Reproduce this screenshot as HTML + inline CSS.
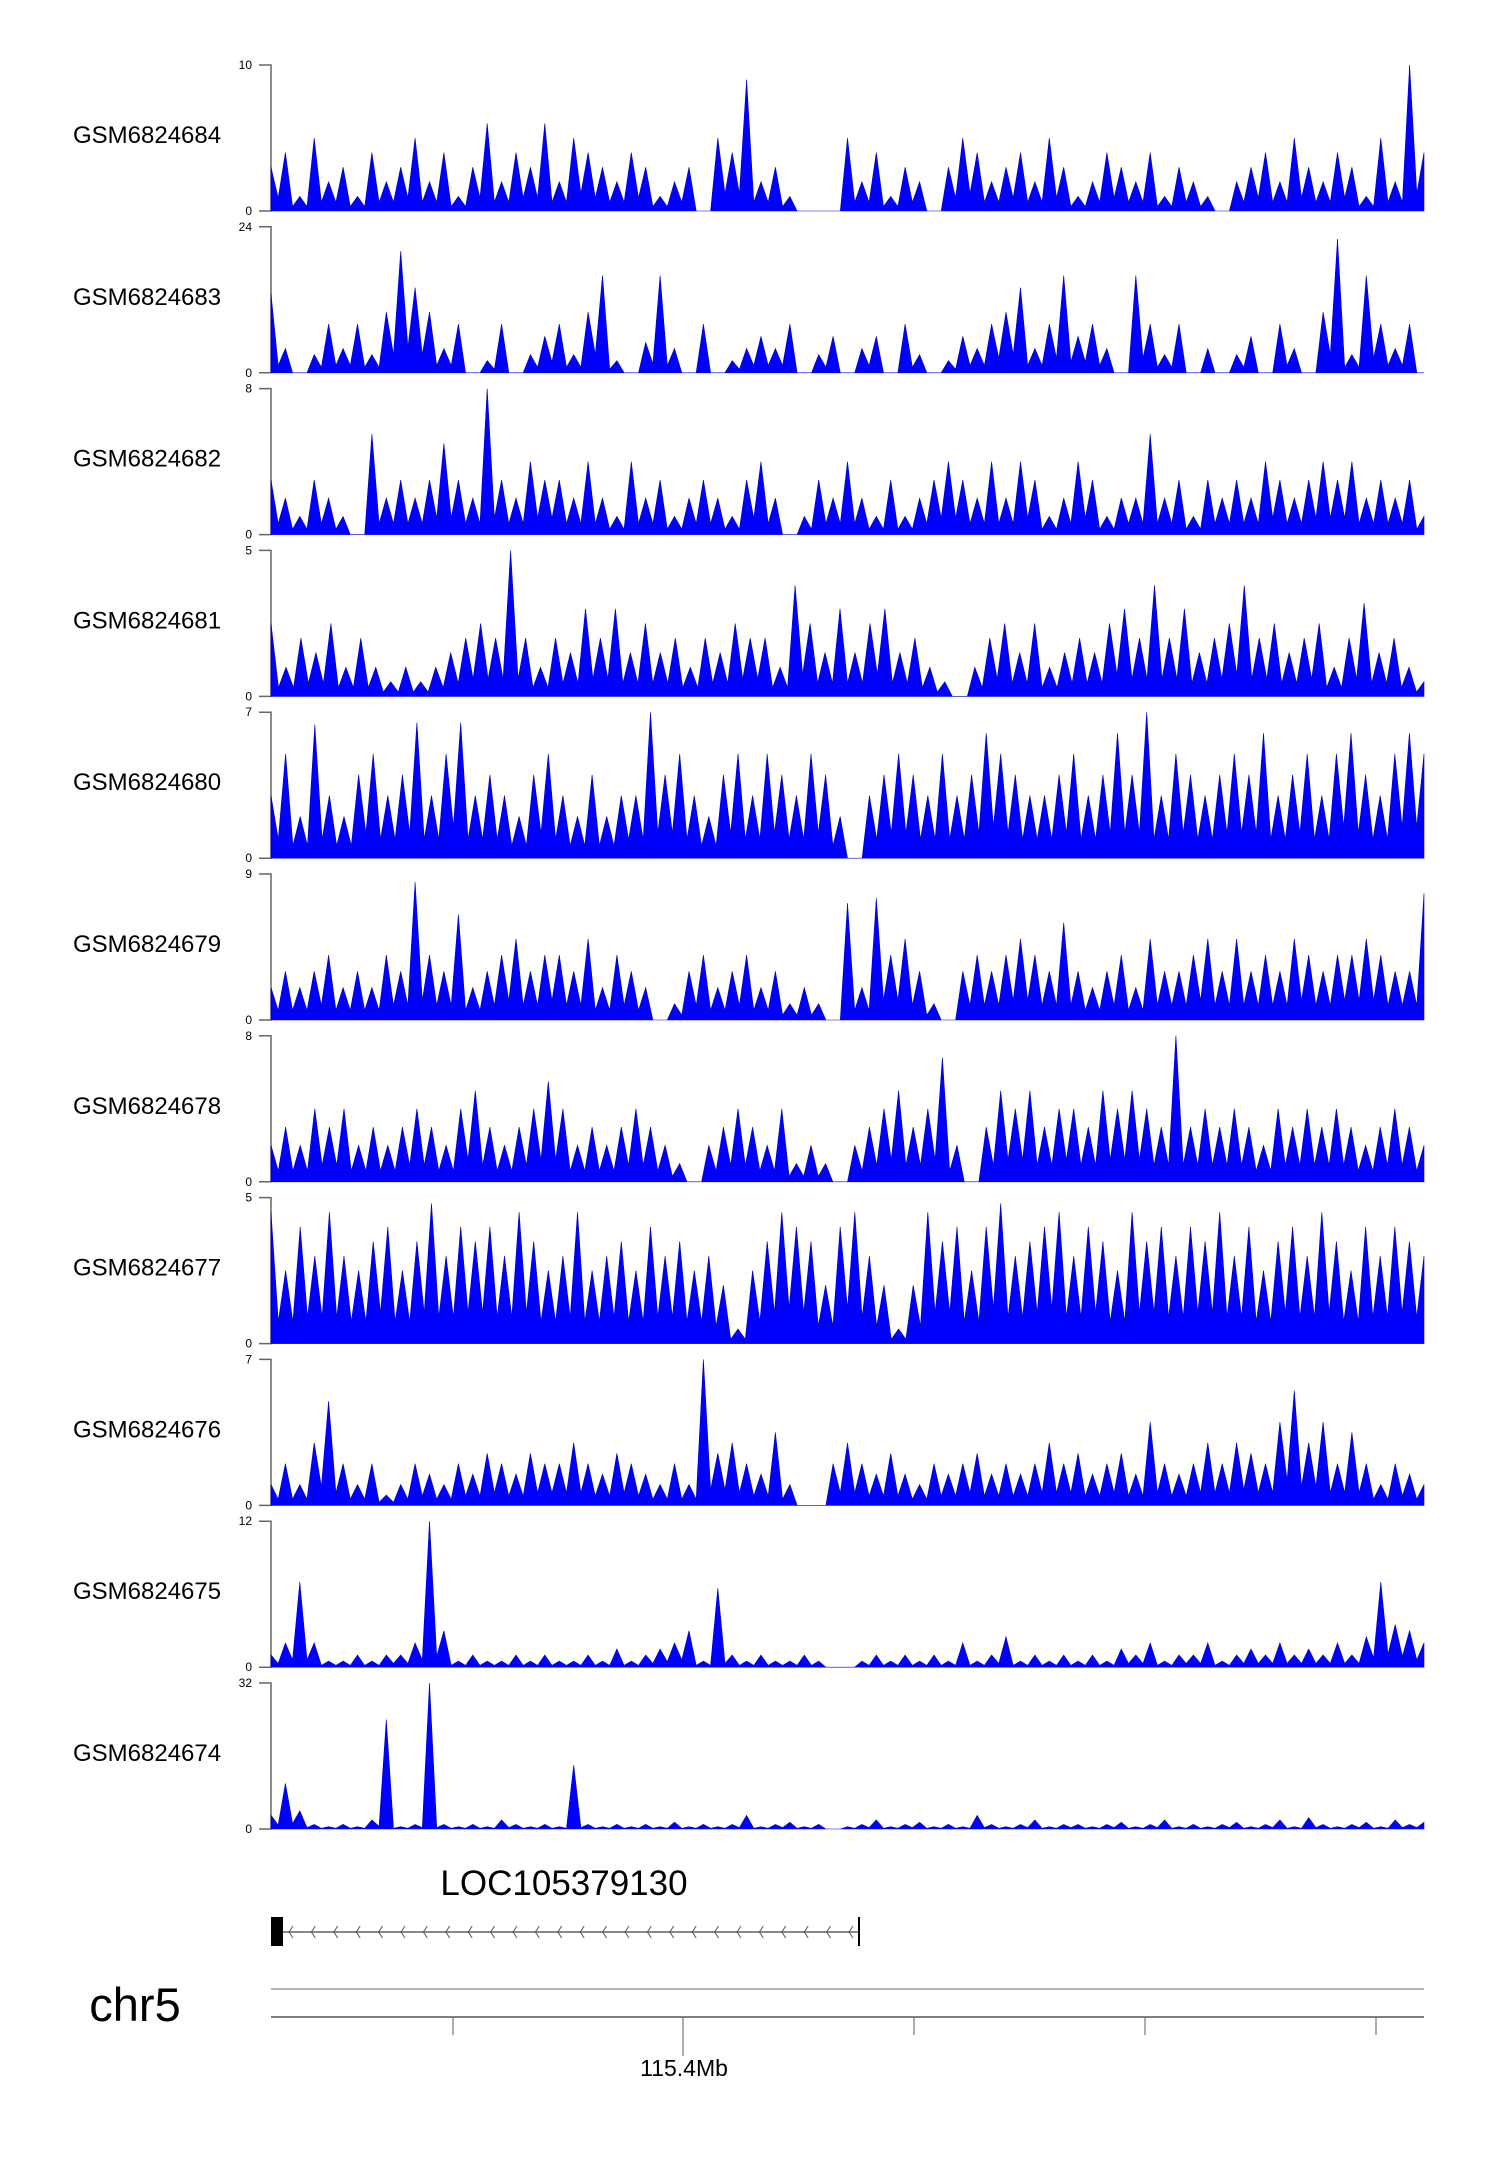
<!DOCTYPE html>
<html><head><meta charset="utf-8"><style>
html,body{margin:0;padding:0;background:#fff;}
svg{display:block;font-family:"Liberation Sans",sans-serif;}
</style></head><body>
<svg id="chart" width="1500" height="2170" viewBox="0 0 1500 2170" xmlns="http://www.w3.org/2000/svg">
<g id="tracks"></g>
<g>
<text x="564" y="1895" font-size="35" text-anchor="middle" fill="#000">LOC105379130</text>
<line x1="271" y1="1932" x2="859" y2="1932" stroke="#888" stroke-width="2"/>
<g id="chevrons"></g>
<rect x="271" y="1917" width="12" height="29" fill="#000"/>
<line x1="859" y1="1917" x2="859" y2="1946" stroke="#000" stroke-width="2"/>
</g>
<g>
<text x="135" y="2021" font-size="47" text-anchor="middle" fill="#000">chr5</text>
<line x1="271" y1="1989" x2="1424" y2="1989" stroke="#999" stroke-width="1.5"/>
<line x1="271" y1="2017" x2="1424" y2="2017" stroke="#555" stroke-width="1.5"/>
<g id="axticks"></g>
<text x="684" y="2076" font-size="23" text-anchor="middle" fill="#000">115.4Mb</text>
</g>
</svg>
<script>
const sampleNames = ["GSM6824684","GSM6824683","GSM6824682","GSM6824681","GSM6824680","GSM6824679","GSM6824678","GSM6824677","GSM6824676","GSM6824675","GSM6824674"];
const yMax = [10,24,8,5,7,9,8,5,7,12,32];
const t684 = [3,4,1,5,2,3,1,4,2,3,5,2,4,1,3,6,2,4,3,6,2,5,4,3,2,4,3,1,2,3,0,5,4,9,2,3,1,0,0,0,5,2,4,1,3,2,0,3,5,4,2,3,4,2,5,3,1,2,4,3,2,4,1,3,2,1,0,2,3,4,2,5,3,2,4,3,1,5,2,10,4];
const t683 = [13,4,0,3,8,4,8,3,10,20,14,10,4,8,0,2,8,0,3,6,8,3,10,16,2,0,5,16,4,0,8,0,2,4,6,4,8,0,3,6,0,4,6,0,8,3,0,2,6,4,8,10,14,4,8,16,6,8,4,0,16,8,3,8,0,4,0,3,6,0,8,4,0,10,22,3,16,8,4,8,0];
const t682 = [3,2,1,3,2,1,0,5.5,2,3,2,3,5,3,2,8,3,2,4,3,3,2,4,2,1,4,2,3,1,2,3,2,1,3,4,2,0,1,3,2,4,2,1,3,1,2,3,4,3,2,4,2,4,3,1,2,4,3,1,2,2,5.5,2,3,1,3,2,3,2,4,3,2,3,4,3,4,2,3,2,3,1];
const t681 = [2.5,1,2,1.5,2.5,1,2,1,0.5,1,0.5,1,1.5,2,2.5,2,5,2,1,2,1.5,3,2,3,1.5,2.5,1.5,2,1,2,1.5,2.5,2,2,1,3.8,2.5,1.5,3,1.5,2.5,3,1.5,2,1,0.5,0,1,2,2.5,1.5,2.5,1,1.5,2,1.5,2.5,3,2,3.8,2,3,1.5,2,2.5,3.8,2,2.5,1.5,2,2.5,1,2,3.2,1.5,2,1,0.5];
const t680 = [3,5,2,6.4,3,2,4,5,3,4,6.5,3,5,6.5,3,4,3,2,4,5,3,2,4,2,3,3,7,4,5,3,2,4,5,3,5,4,3,5,4,2,0,3,4,5,4,3,5,3,4,6,5,4,3,3,4,5,3,4,6,4,7,3,5,4,3,4,5,4,6,3,4,5,3,5,6,4,3,5,6,5];
const t679 = [2,3,2,3,4,2,3,2,4,3,8.5,4,3,6.5,2,3,4,5,3,4,4,3,5,2,4,3,2,0,1,3,4,2,3,4,2,3,1,2,1,0,7.2,2,7.5,4,5,3,1,0,3,4,3,4,5,4,3,6,3,2,3,4,2,5,3,3,4,5,3,5,3,4,3,5,4,3,4,4,5,4,3,3,7.8];
const t678 = [2,3,2,4,3,4,2,3,2,3,4,3,2,4,5,3,2,3,4,5.5,4,2,3,2,3,4,3,2,1,0,2,3,4,3,2,4,1,2,1,0,2,3,4,5,3,4,6.8,2,0,3,5,4,5,3,4,4,3,5,4,5,4,3,8,3,4,3,4,3,2,4,3,4,3,4,3,2,3,4,3,2];
const t677 = [4.5,2.5,4,3,4.5,3,2.5,3.5,4,2.5,3.5,4.8,3,4,3.5,4,3,4.5,3.5,2.5,3,4.5,2.5,3,3.5,2.5,4,3,3.5,2.5,3,2,0.5,2.5,3.5,4.5,4,3.5,2,4,4.5,3,2,0.5,2,4.5,3.5,4,2.5,4,4.8,3,3.5,4,4.5,3,4,3.5,2.5,4.5,3.5,4,3,4,3.5,4.5,3,4,2.5,3.5,4,3,4.5,3.5,2.5,4,3,4,3.5,3];
const t676 = [1,2,1,3,5,2,1,2,0.5,1,2,1.5,1,2,1.5,2.5,2,1.5,2.5,2,2,3,2,1.5,2.5,2,1.5,1,2,1,7,2.5,3,2,1.5,3.5,1,0,0,2,3,2,1.5,2.5,1.5,1,2,1.5,2,2.5,1.5,2,1.5,2,3,2,2.5,1.5,2,2.5,1.5,4,2,1.5,2,3,2,3,2.5,2,4,5.5,3,4,2,3.5,2,1,2,1.5,1];
const t675 = [1,2,7,2,0.5,0.5,1,0.5,1,1,2,12,3,0.5,1,0.5,0.5,1,0.5,1,0.5,0.5,1,0.5,1.5,0.5,1,1.5,2,3,0.5,6.5,1,0.5,1,0.5,0.5,1,0.5,0,0,0.5,1,0.5,1,0.5,1,0.5,2,0.5,1,2.5,0.5,1,0.5,1,0.5,1,0.5,1.5,1,2,0.5,1,1,2,0.5,1,1.5,1,2,1,1.5,1,2,1,2.5,7,3.5,3,2];
const t674 = [3,10,4,1,0.5,1,0.5,2,24,0.5,1,32,1,0.5,1,0.5,2,1,0.5,1,0.5,14,1,0.5,1,0.5,1,0.5,1.5,0.5,1,0.5,1,3,0.5,1,1.5,0.5,1,0,0.5,1,2,0.5,1,1.5,0.5,1,0.5,3,1,0.5,1,2,0.5,1,1,0.5,1,1.5,0.5,1,2,0.5,1,0.5,1,1.5,0.5,1,2,0.5,2.5,1,0.5,1,1.5,0.5,2,1,1.5];
const seriesList = [t684,t683,t682,t681,t680,t679,t678,t677,t676,t675,t674];

const NS = "http://www.w3.org/2000/svg";
const X0 = 271, X1 = 1424, TOP0 = 65, PITCH = 161.8, H = 146;
function xScale(i, n){ return X0 + (X1 - X0) * i / (n - 1); }
function yScale(v, max, top){ return top + H - (v / max) * H; }
function mk(tag, attrs){ const e = document.createElementNS(NS, tag); for (const k in attrs) e.setAttribute(k, attrs[k]); return e; }
const g = document.getElementById('tracks');
seriesList.forEach((s, t) => {
  const top = TOP0 + PITCH * t, base = top + H, max = yMax[t];
  const tg = mk('g', {});
  
  
  g.appendChild(tg);
  const lab = mk('text', {x: 73, y: top + H/2 + 5, 'font-size': 24, fill: '#000'});
  
  
  lab.textContent = sampleNames[t];
  tg.appendChild(lab);
  const ax = mk('path', {d: `M259 ${top}H${X0}V${base}H259`, fill: 'none', stroke: '#666', 'stroke-width': 1.5});
  
  
  tg.appendChild(ax);
  [[max, top], [0, base]].forEach(([v, y]) => {
    const tl = mk('text', {x: 252, y: y + 4, 'font-size': 12, 'text-anchor': 'end', fill: '#000'});
    
    
    tl.textContent = v;
    tg.appendChild(tl);
  });
  const n = s.length;
  let d = `M${X0} ${base}`;
  for (let i = 0; i < n; i++) {
    d += ` L${xScale(i, n).toFixed(1)} ${yScale(s[i], max, top).toFixed(1)}`;
    if (i < n - 1) {
      const mid = Math.min(s[i], s[i+1]) * 0.3;
      d += ` L${xScale(i + 0.5, n).toFixed(1)} ${yScale(mid, max, top).toFixed(1)}`;
    }
  }
  d += ` L${X1} ${base}Z`;
  const area = mk('path', {d: d, fill: '#0000ff', stroke: '#0000cc', 'stroke-width': 0.6});
  
  
  tg.appendChild(area);
});
const ch = document.getElementById('chevrons');
for (let x = 289; x < 856; x += 22.4) {
  const p = mk('path', {d: `M${x+4} 1926 L${x} 1932 L${x+4} 1938`, fill: 'none', stroke: '#555', 'stroke-width': 1});
  
  
  ch.appendChild(p);
}
const axTicks = [453, 683, 914, 1145, 1376];
const at = document.getElementById('axticks');
axTicks.forEach((x, i) => {
  const l = mk('line', {x1: x, y1: 2017, x2: x, y2: i === 1 ? 2056 : 2035, stroke: '#777', 'stroke-width': 1.2});
  
  
  at.appendChild(l);
});
</script>
</body></html>
